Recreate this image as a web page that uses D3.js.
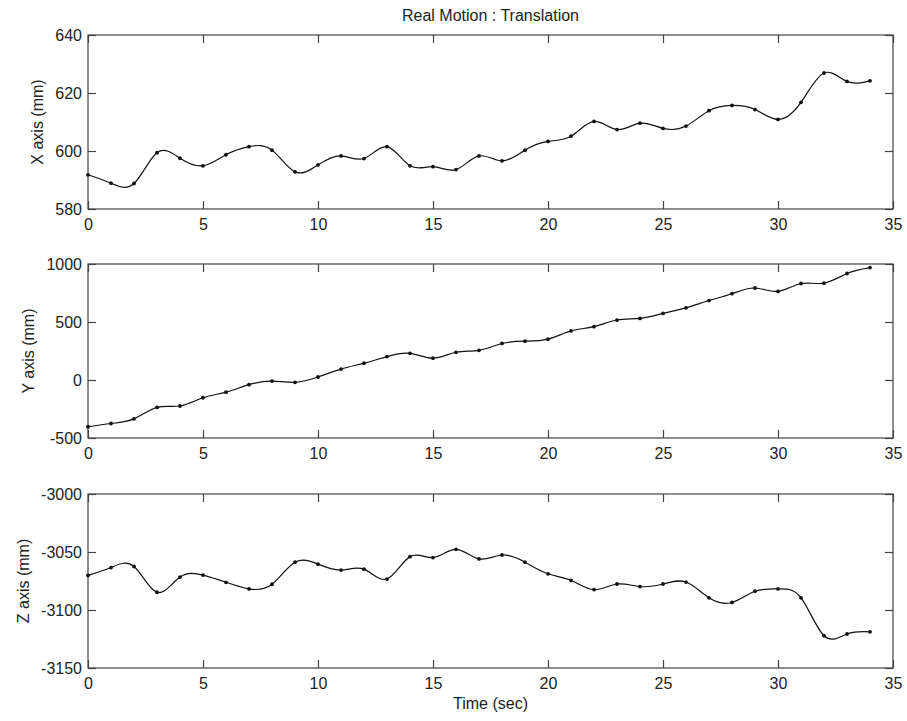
<!DOCTYPE html>
<html>
<head>
<meta charset="utf-8">
<script src="https://cdn.jsdelivr.net/npm/d3@7"></script>
<style>
  body { margin: 0; background: #fff; }
  svg text { font-family: "Liberation Sans", Arial, Helvetica, sans-serif; fill: #222; }
</style>
</head>
<body>
<div id="chart"></div>
<script>
// sample times (sec)
const timeSec = [0, 1, 2, 3, 4, 5, 6, 7, 8, 9, 10, 11, 12, 13, 14, 15, 16, 17,
  18, 19, 20, 21, 22, 23, 24, 25, 26, 27, 28, 29, 30, 31, 32, 33, 34];

// X translation (mm)
const xAxisMm = [591.8, 588.9, 588.8, 599.4, 597.5, 594.9, 598.7, 601.5, 600.3, 592.8,
  595.2, 598.3, 597.4, 601.5, 594.9, 594.6, 593.6, 598.3, 596.6, 600.3,
  603.3, 605.1, 610.2, 607.4, 609.6, 607.8, 608.6, 613.9, 615.7, 614.3,
  610.9, 616.8, 626.9, 624.0, 624.2];

// Y translation (mm)
const yAxisMm = [-403, -375, -335, -236, -224, -153, -105, -40, -9, -20,
  26, 94, 145, 202, 230, 188, 239, 256, 315, 335,
  352, 423, 460, 517, 531, 574, 622, 685, 744, 793,
  764, 832, 835, 918, 969];

// Z translation (mm)
const zAxisMm = [-3070.2, -3063.4, -3062.5, -3084.7, -3071.6, -3069.9, -3076.1, -3081.8, -3077.8, -3058.8,
  -3060.5, -3065.6, -3064.8, -3073.3, -3054.0, -3054.8, -3047.7, -3056.0, -3052.6, -3058.8,
  -3068.8, -3074.4, -3082.4, -3077.6, -3079.8, -3077.6, -3075.9, -3089.5, -3093.5, -3083.8,
  -3081.8, -3089.5, -3122.2, -3120.7, -3118.8];

const panels = [
  {label: "X axis (mm)", values: xAxisMm, domain: [580, 640], ticks: [580, 600, 620, 640]},
  {label: "Y axis (mm)", values: yAxisMm, domain: [-500, 1000], ticks: [-500, 0, 500, 1000]},
  {label: "Z axis (mm)", values: zAxisMm, domain: [-3150, -3000], ticks: [-3150, -3100, -3050, -3000]}
];
const xTicks = [0, 5, 10, 15, 20, 25, 30, 35];

const width = 907, height = 721;
const left = 88, right = 893;
const panelTops = [35, 264, 494];
const panelH = 174;
const fontSize = 16;

const svg = d3.select("#chart").append("svg")
  .attr("width", width)
  .attr("height", height);

const x = d3.scaleLinear().domain([0, 35]).range([left, right]);

svg.append("text")
  .attr("x", (left + right) / 2)
  .attr("y", 15)
  .attr("dy", "0.35em")
  .attr("text-anchor", "middle")
  .attr("font-size", fontSize)
  .text("Real Motion : Translation");

panels.forEach((p, i) => {
  const top = panelTops[i];
  const y = d3.scaleLinear().domain(p.domain).range([top + panelH, top]);
  const g = svg.append("g");

  // box
  g.append("rect")
    .attr("x", left)
    .attr("y", top)
    .attr("width", right - left)
    .attr("height", panelH)
    .attr("fill", "none")
    .attr("stroke", "#444")
    .attr("stroke-width", 1.2);

  const styleAxis = sel => {
    sel.select(".domain").remove();
    sel.selectAll("line").attr("stroke", "#444").attr("stroke-width", 1.2);
    sel.selectAll("text").attr("font-size", fontSize).attr("fill", "#222")
      .attr("font-family", "'Liberation Sans', Arial, sans-serif");
  };

  g.append("g")
    .attr("transform", `translate(0,${top + panelH})`)
    .call(d3.axisBottom(x).tickValues(xTicks).tickSize(-8).tickPadding(10).tickFormat(d3.format("d")))
    .call(styleAxis);

  g.append("g")
    .attr("transform", `translate(0,${top})`)
    .call(d3.axisTop(x).tickValues(xTicks).tickSize(-8).tickFormat(""))
    .call(styleAxis);

  // plain hyphen for negatives, like the original
  const yAx = g.append("g")
    .attr("transform", `translate(${left},0)`)
    .call(d3.axisLeft(y).tickValues(p.ticks).tickSize(-8).tickPadding(6).tickFormat(d => String(d)))
    .call(styleAxis);

  g.append("g")
    .attr("transform", `translate(${right},0)`)
    .call(d3.axisRight(y).tickValues(p.ticks).tickSize(-8).tickFormat(""))
    .call(styleAxis);

  // y label left of the widest tick label
  let minX = left;
  yAx.selectAll("text").each(function() {
    const b = this.getBBox();
    const m = this.getCTM();
    minX = Math.min(minX, b.x + m.e);
  });
  const ly = top + panelH / 2;
  const lx = minX - 12;
  g.append("text")
    .attr("transform", `translate(${lx},${ly}) rotate(-90)`)
    .attr("text-anchor", "middle")
    .attr("font-size", fontSize)
    .text(p.label);

  const pts = timeSec.map((t, k) => [t, p.values[k]]);

  const line = d3.line()
    .curve(d3.curveNatural)
    .x(d => x(d[0]))
    .y(d => y(d[1]));

  g.append("path")
    .datum(pts)
    .attr("d", line)
    .attr("fill", "none")
    .attr("stroke", "#111")
    .attr("stroke-width", 1.2);

  g.append("g")
    .selectAll("circle")
    .data(pts)
    .join("circle")
      .attr("cx", d => x(d[0]))
      .attr("cy", d => y(d[1]))
      .attr("r", 1.9)
      .attr("fill", "#111");
});

svg.append("text")
  .attr("x", (left + right) / 2)
  .attr("y", 703)
  .attr("dy", "0.35em")
  .attr("text-anchor", "middle")
  .attr("font-size", fontSize)
  .text("Time (sec)");
</script>
</body>
</html>
